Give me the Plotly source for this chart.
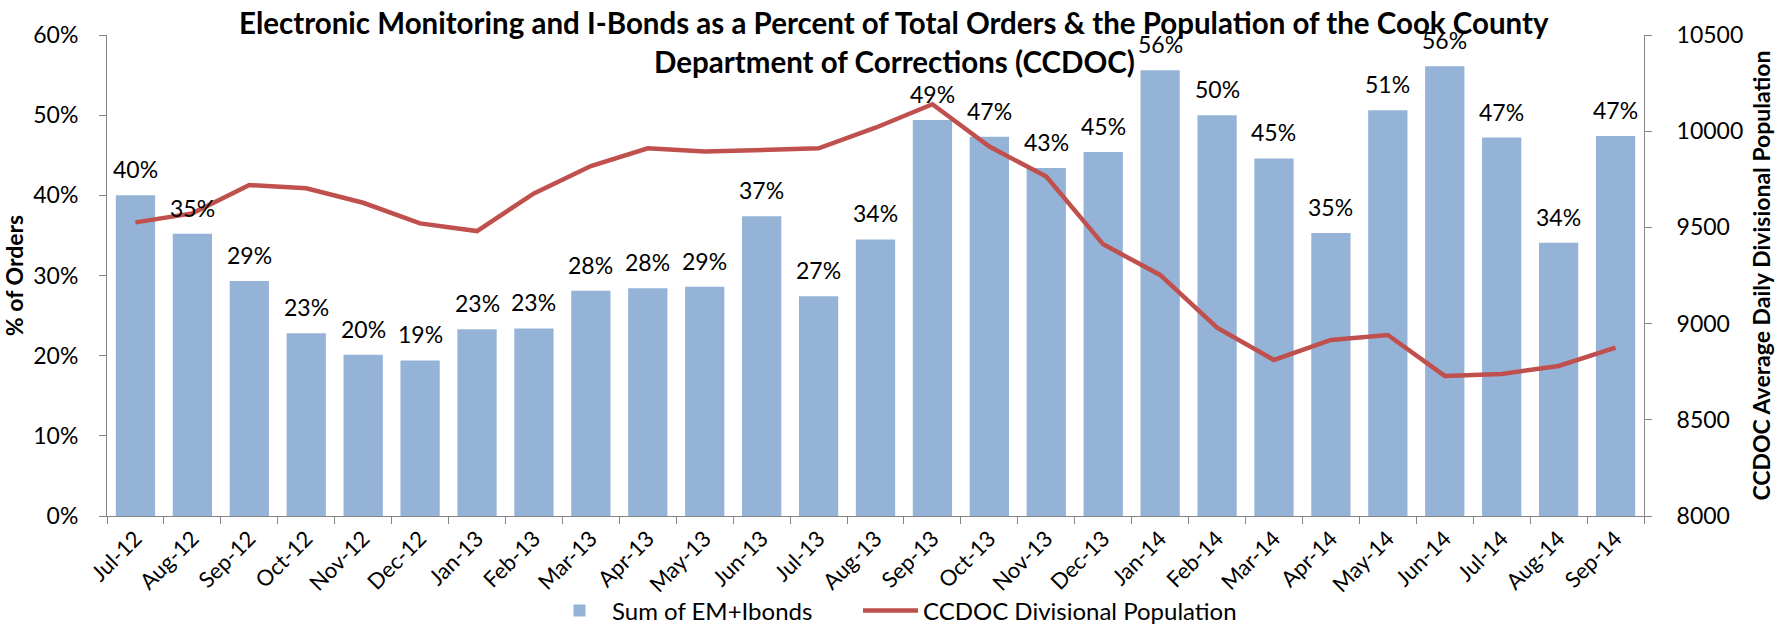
import plotly.graph_objects as go

months = ["Jul-12", "Aug-12", "Sep-12", "Oct-12", "Nov-12", "Dec-12", "Jan-13", "Feb-13", "Mar-13",
          "Apr-13", "May-13", "Jun-13", "Jul-13", "Aug-13", "Sep-13", "Oct-13", "Nov-13", "Dec-13",
          "Jan-14", "Feb-14", "Mar-14", "Apr-14", "May-14", "Jun-14", "Jul-14", "Aug-14", "Sep-14"]

em_ibonds_pct = [0.400, 0.352, 0.293, 0.228, 0.201, 0.194, 0.233, 0.234, 0.281,
                 0.284, 0.286, 0.374, 0.274, 0.345, 0.494, 0.473, 0.434, 0.454,
                 0.556, 0.500, 0.446, 0.353, 0.506, 0.561, 0.472, 0.341, 0.474]

ccdoc_population = [9526, 9573, 9720, 9703, 9628, 9521, 9481, 9677, 9819,
                    9911, 9894, 9902, 9911, 10018, 10140, 9920, 9764, 9412,
                    9253, 8979, 8811, 8915, 8941, 8728, 8738, 8780, 8875]

title_line1 = "Electronic Monitoring and I-Bonds as a Percent of Total Orders & the Population of the Cook County"
title_line2 = "Department of Corrections (CCDOC)"

FONT = "Lato"
BAR_COLOR = "#95B3D7"
LINE_COLOR = "#C0504D"
AXIS_COLOR = "#868686"

L, R, T, B = 107, 145, 35, 111
PH = 627 - T - B
PW = 1789 - L - R

fig = go.Figure()
fig.add_trace(go.Bar(
    x=months, y=em_ibonds_pct, name="Sum of EM+Ibonds",
    marker=dict(color=BAR_COLOR, line=dict(width=0)),
    yaxis="y", legend="legend",
))
fig.add_trace(go.Scatter(
    x=months, y=ccdoc_population, name="CCDOC Divisional Population",
    mode="lines", line=dict(color=LINE_COLOR, width=4.5),
    yaxis="y2", legend="legend2",
))

annotations = []
for m, v in zip(months, em_ibonds_pct):
    annotations.append(dict(
        x=m, y=v, xref="x", yref="y", text=f"{round(v * 100):.0f}%",
        showarrow=False, yanchor="bottom", yshift=10,
        font=dict(family=FONT, size=23, color="#000000"),
    ))
title_x = (894 - L) / PW
annotations.append(dict(
    x=title_x, y=1.0 + (T - 22) / PH, xref="paper", yref="paper", text=title_line1,
    showarrow=False, yanchor="middle", xanchor="center",
    font=dict(family=FONT, size=29.5, color="#000000", weight="bold"),
))
annotations.append(dict(
    x=title_x, y=1.0 - (61 - T) / PH, xref="paper", yref="paper", text=title_line2,
    showarrow=False, yanchor="middle", xanchor="center",
    font=dict(family=FONT, size=29.5, color="#000000", weight="bold"),
))

legend_common = dict(
    orientation="h", xanchor="left", yanchor="middle",
    font=dict(family=FONT, size=24, color="#000000"),
    itemwidth=55, bgcolor="rgba(0,0,0,0)",
)
legend_y = -(611.0 - (627 - B)) / PH

fig.update_layout(
    width=1789, height=627,
    margin=dict(l=L, r=R, t=T, b=B, autoexpand=False),
    paper_bgcolor="white", plot_bgcolor="white",
    font=dict(family=FONT, size=23, color="#000000"),
    bargap=0.31,
    showlegend=True,
    legend=dict(x=(547 - L) / PW, y=legend_y, **legend_common),
    legend2=dict(x=(858 - L) / PW, y=legend_y, **legend_common),
    xaxis=dict(
        type="category", tickangle=-45, showgrid=False,
        showline=True, linecolor=AXIS_COLOR, linewidth=1,
        ticks="outside", ticklen=7, tickcolor=AXIS_COLOR, tickson="boundaries",
        tickfont=dict(family=FONT, size=22, color="#000000"),
    ),
    yaxis=dict(
        range=[0, 0.6], dtick=0.1, tickformat=".0%", showgrid=False, zeroline=False,
        showline=True, linecolor=AXIS_COLOR, linewidth=1,
        ticks="outside", ticklen=7, tickcolor=AXIS_COLOR, ticklabelstandoff=16,
        tickfont=dict(family=FONT, size=23, color="#000000"),
        title=dict(text="% of Orders", standoff=4,
                   font=dict(family=FONT, size=23, color="#000000", weight="bold")),
    ),
    yaxis2=dict(
        range=[8000, 10500], dtick=500, tickformat="d", overlaying="y", side="right",
        showgrid=False, zeroline=False,
        showline=True, linecolor=AXIS_COLOR, linewidth=1,
        ticks="outside", ticklen=7, tickcolor=AXIS_COLOR, ticklabelstandoff=20,
        tickfont=dict(family=FONT, size=23, color="#000000"),
        title=dict(text="CCDOC Average Daily Divisional Population", standoff=11,
                   font=dict(family=FONT, size=23, color="#000000", weight="bold")),
    ),
    annotations=annotations,
)

fig.write_html(
    "out.html",
    config={"displayModeBar": False},
    post_script="document.body.style.margin='0';document.body.style.padding='0';",
)
